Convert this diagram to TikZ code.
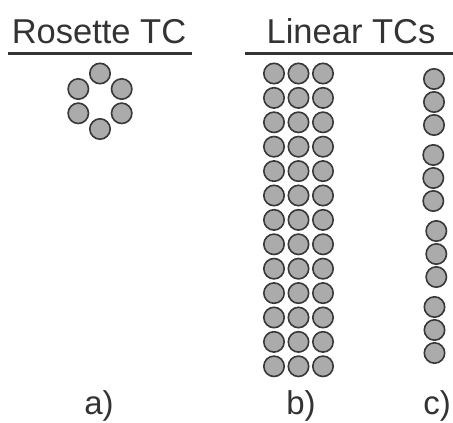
\documentclass[tikz,border=0pt]{standalone}
\usepackage{fontspec}
\setmainfont{Liberation Sans}
\begin{document}
\begin{tikzpicture}[x=1pt,y=-1pt,
  tc/.style={circle,draw=black!78,fill=black!33,line width=1.6pt,minimum size=20.4pt,inner sep=0pt},
  head/.style={anchor=base,text=black!80,font=\fontsize{34.5}{40}\selectfont,inner sep=0pt},
  lab/.style={anchor=base,text=black!80,font=\fontsize{33}{40}\selectfont,inner sep=0pt},
  rule/.style={line width=3pt,draw=black!80}]
\useasboundingbox (0,0) rectangle (453,423);
% headings
\node[head] (hA) at (99,43) {Rosette TC};
\node[head] (hB) at (351,43) {Linear TCs};
\coordinate (rA1) at (8,53);
\coordinate (rA2) at (192,53);
\coordinate (rB1) at (245,53);
\coordinate (rB2) at (453,53);
\draw[rule] (rA1) -- (rA2);
\draw[rule] (rB1) -- (rB2);
% rosette
\node[tc] (r1) at (100,73.5) {};
\node[tc] (r2) at (78.3,89) {};
\node[tc] (r3) at (121.7,89) {};
\node[tc] (r4) at (78.3,113.3) {};
\node[tc] (r5) at (121.7,113.3) {};
\node[tc] (r6) at (100,129) {};
% linear b
\foreach \i in {0,...,12}{
  \foreach \x [count=\j] in {274,298.5,323}{
    \node[tc] (b\i-\j) at (\x,73.5+24.4*\i) {};
  }
}
% linear c
\foreach \g/\x in {0/434,1/433.3,2/436.3,3/434.5}{
  \foreach \k in {0,1,2}{
    \node[tc] (c\g-\k) at (\x,79+76*\g+23*\k) {};
  }
}
% labels
\node[lab] (la) at (99,414.5) {a)};
\node[lab] (lb) at (301,414.5) {b)};
\node[lab] (lc) at (437,414.5) {c)};
\end{tikzpicture}
\end{document}
